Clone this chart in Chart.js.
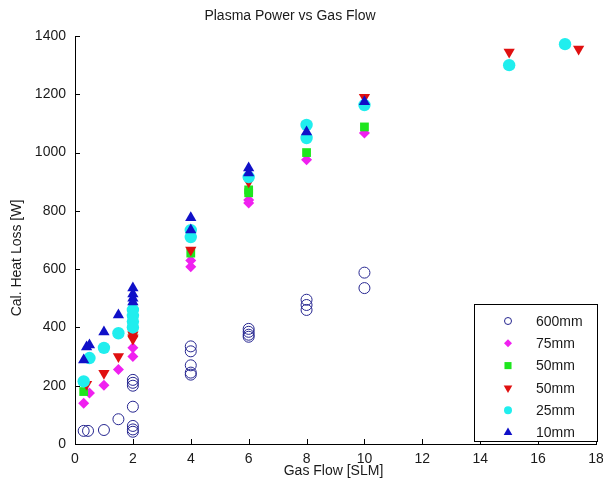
<!DOCTYPE html>
<html>
<head>
<meta charset="utf-8">
<script src="https://cdn.jsdelivr.net/npm/chart.js@4.4.0/dist/chart.umd.min.js"></script>
<style>
  html, body { margin: 0; padding: 0; background: #fff; }
  #wrap { position: relative; width: 603px; height: 491px; }
</style>
</head>
<body>
<div id="wrap"><canvas id="plot"></canvas></div>
<script>
const titleText = "Plasma Power vs Gas Flow";
const xTitle = "Gas Flow [SLM]";
const yTitle = "Cal. Heat Loss [W]";
const seriesLabels = ["600mm", "75mm", "50mm", "50mm", "25mm", "10mm"];

const flow600 = [0.3, 0.45, 1, 1.5, 2, 2, 2, 2, 2, 2, 2, 4, 4, 4, 4, 4, 6, 6, 6, 6, 8, 8, 8, 10, 10];
const heat600 = [45, 45, 48, 85, 220, 210, 200, 128, 62, 50, 42, 335, 318, 270, 245, 238, 395, 385, 375, 368, 495, 477, 460, 588, 535];

const flow75 = [0.3, 0.5, 1, 1.5, 2, 2, 4, 4, 6, 6, 8, 10];
const heat75 = [140, 175, 202, 256, 300, 330, 630, 608, 837, 827, 975, 1067];

const flow50sq = [0.3, 2, 4, 6, 6, 8, 10];
const heat50sq = [180, 378, 655, 872, 862, 1000, 1088];

const flow50tri = [0.4, 1, 1.5, 2, 2, 2, 4, 6, 8, 10, 15, 17.4];
const heat50tri = [205, 243, 300, 375, 365, 360, 666, 900, 1095, 1190, 1345, 1355];

const flow25 = [0.3, 0.5, 1, 1.5, 2, 2, 2, 2, 4, 4, 6, 8, 8, 10, 15, 16.93];
const heat25 = [215, 295, 330, 380, 460, 440, 420, 400, 734, 710, 916, 1095, 1050, 1163, 1300, 1372];

const flow10 = [0.3, 0.4, 0.5, 1, 1.5, 2, 2, 2, 2, 4, 4, 6, 6, 8, 10];
const heat10 = [288, 333, 340, 384, 443, 535, 515, 500, 487, 776, 734, 947, 930, 1071, 1174];

const xTicks = [0, 2, 4, 6, 8, 10, 12, 14, 16, 18];
const yTicks = [0, 200, 400, 600, 800, 1000, 1200, 1400];

const font = '"Liberation Sans", Arial, sans-serif';
const ink = "#1a1a1a";

function pairs(xs, ys) {
  return xs.map((x, i) => ({ x, y: ys[i] }));
}

const styles = [
  { style: "circle", rot: 0, r: 5.5, fill: "rgba(0,0,0,0)", edge: "#262690", bw: 1, lr: 3.5 },
  { style: "rectRot", rot: 0, r: 5.5, fill: "#f020f0", edge: "#f020f0", bw: 0, lr: 4 },
  { style: "rect", rot: 0, r: 6.2, fill: "#1ee61e", edge: "#1ee61e", bw: 0, lr: 5 },
  { style: "triangle", rot: 180, r: 6.5, fill: "#e01010", edge: "#e01010", bw: 0, lr: 5 },
  { style: "circle", rot: 0, r: 6.2, fill: "#20eeee", edge: "#20eeee", bw: 0, lr: 4 },
  { style: "triangle", rot: 0, r: 6.5, fill: "#1010c8", edge: "#1010c8", bw: 0, lr: 5 }
];

const allData = [
  pairs(flow600, heat600),
  pairs(flow75, heat75),
  pairs(flow50sq, heat50sq),
  pairs(flow50tri, heat50tri),
  pairs(flow25, heat25),
  pairs(flow10, heat10)
];

const datasets = allData.map((data, i) => ({
  label: seriesLabels[i],
  data,
  order: allData.length - i,
  pointStyle: styles[i].style,
  rotation: styles[i].rot,
  radius: styles[i].r,
  backgroundColor: styles[i].fill,
  borderColor: styles[i].edge,
  borderWidth: styles[i].bw,
  clip: false
}));

const textPlugin = {
  id: "matlabText",
  afterDraw(chart) {
    const { ctx, chartArea } = chart;
    ctx.save();
    ctx.fillStyle = ink;
    ctx.font = "14px " + font;
    ctx.textAlign = "center";
    ctx.textBaseline = "middle";
    ctx.fillText(titleText, 290, 16);
    ctx.fillText(xTitle, (chartArea.left + chartArea.right) / 2 - 2, chartArea.bottom + 27);
    ctx.translate(17, 258);
    ctx.rotate(-Math.PI / 2);
    ctx.fillText(yTitle, 0, 0);
    ctx.restore();
  }
};

const inwardTicks = {
  id: "inwardTicks",
  afterDraw(chart) {
    const { ctx, chartArea, scales } = chart;
    ctx.save();
    ctx.strokeStyle = "#000";
    ctx.lineWidth = 1;
    ctx.beginPath();
    scales.x.ticks.forEach((t) => {
      const px = Math.round(scales.x.getPixelForValue(t.value)) + 0.5;
      ctx.moveTo(px, chartArea.bottom);
      ctx.lineTo(px, chartArea.bottom - 5);
    });
    scales.y.ticks.forEach((t) => {
      const py = Math.round(scales.y.getPixelForValue(t.value)) + 0.5;
      ctx.moveTo(chartArea.left, py);
      ctx.lineTo(chartArea.left + 5, py);
    });
    ctx.stroke();
    ctx.restore();
  }
};

const boxLegend = {
  id: "boxLegend",
  afterDraw(chart) {
    const { ctx, chartArea } = chart;
    const right = chartArea.right + 2;
    const bottom = chartArea.bottom - 2;
    const left = right - 124;
    const top = bottom - 138;
    ctx.save();
    ctx.fillStyle = "#fff";
    ctx.fillRect(left, top, right - left, bottom - top);
    ctx.strokeStyle = "#000";
    ctx.lineWidth = 1;
    ctx.strokeRect(left + 0.5, top + 0.5, right - left - 1, bottom - top - 1);
    ctx.font = "14px " + font;
    ctx.textBaseline = "middle";
    ctx.textAlign = "left";
    seriesLabels.forEach((label, i) => {
      const y = top + 17 + i * 22.3;
      const s = styles[i];
      ctx.fillStyle = s.fill;
      ctx.strokeStyle = s.edge;
      ctx.lineWidth = s.bw;
      Chart.helpers.drawPoint(ctx, { pointStyle: s.style, rotation: s.rot, radius: s.lr, borderWidth: s.bw }, left + 34, y);
      ctx.fillStyle = ink;
      ctx.fillText(label, left + 62, y + 1);
    });
    ctx.restore();
  }
};

new Chart(document.getElementById("plot"), {
  type: "scatter",
  data: { datasets },
  plugins: [textPlugin, inwardTicks, boxLegend],
  options: {
    responsive: true,
    maintainAspectRatio: false,
    animation: false,
    events: [],
    layout: { padding: { top: 36, right: 7, left: 0, bottom: 0 } },
    plugins: {
      legend: { display: false },
      title: { display: false },
      tooltip: { enabled: false }
    },
    scales: {
      x: {
        type: "linear",
        min: 0,
        max: 18,
        afterBuildTicks(scale) {
          scale.ticks = xTicks.map((v) => ({ value: v }));
        },
        afterFit(scale) {
          scale.height = 47;
          scale.paddingLeft = 0;
          scale.paddingRight = 0;
        },
        grid: { display: false, drawTicks: false },
        border: { display: true, color: "#000", width: 1 },
        ticks: { color: ink, font: { family: font, size: 14 }, padding: 7, maxRotation: 0, callback: (v) => String(v) }
      },
      y: {
        type: "linear",
        min: 0,
        max: 1400,
        afterBuildTicks(scale) {
          scale.ticks = yTicks.map((v) => ({ value: v }));
        },
        afterFit(scale) {
          scale.width = 75;
          scale.paddingTop = 0;
          scale.paddingBottom = 0;
        },
        grid: { display: false, drawTicks: false },
        border: { display: true, color: "#000", width: 1 },
        ticks: { color: ink, font: { family: font, size: 14 }, padding: 9, callback: (v) => String(v) }
      }
    }
  }
});
</script>
</body>
</html>
